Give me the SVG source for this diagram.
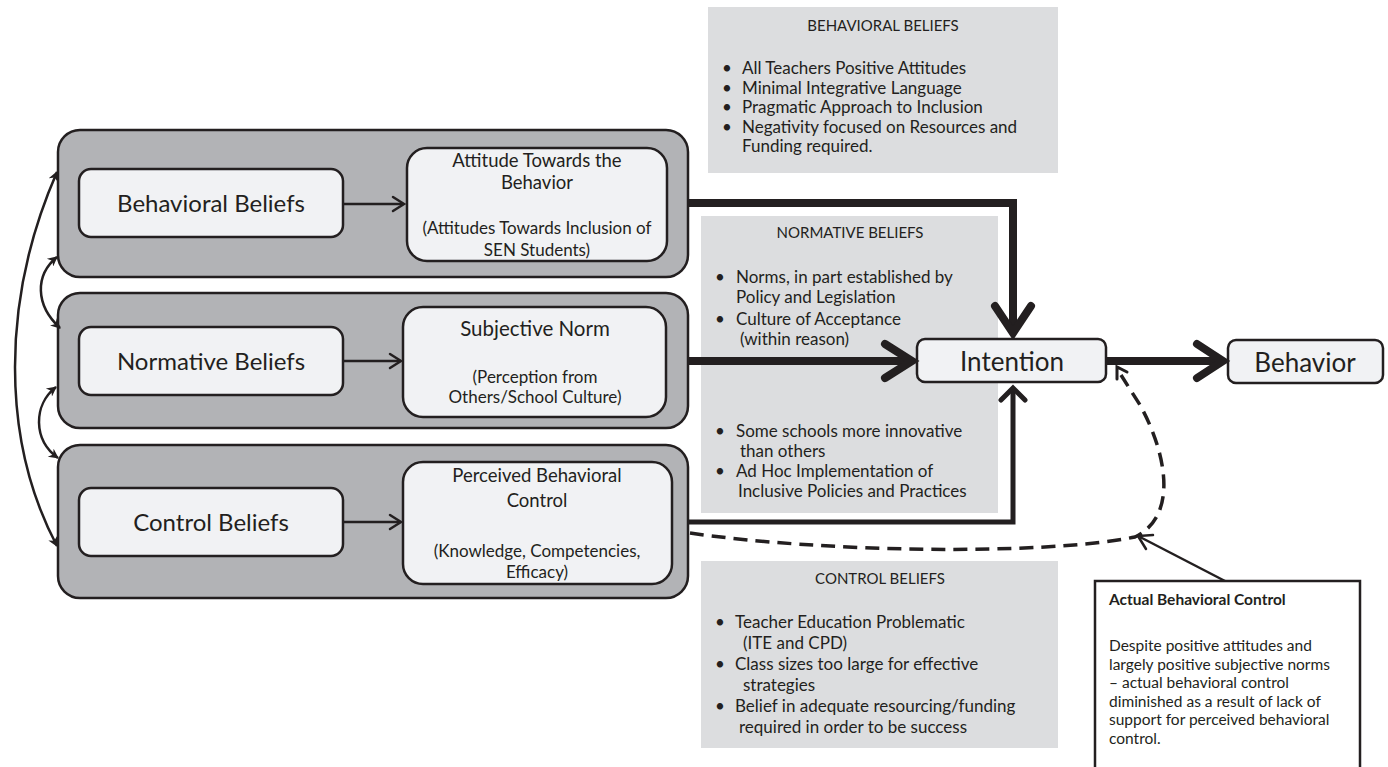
<svg xmlns="http://www.w3.org/2000/svg" width="1388" height="767" viewBox="0 0 1388 767">
<style>
text{font-family:Lato,"Liberation Sans",Arial,sans-serif;fill:#231f20}
.outer{fill:#b2b3b6;stroke:#231f20;stroke-width:2.5}
.inner{fill:#f1f2f4;stroke:#231f20;stroke-width:2.5}
.panel{fill:#dcdddf}
.lt{font-size:24px;text-anchor:middle}
.rt{font-size:18.5px;text-anchor:middle}
.rp{font-size:17px;text-anchor:middle}
.hd{font-size:15px;text-anchor:middle}
.bl{font-size:17px}
.big{font-size:26px;text-anchor:middle}
.ab{font-size:15.5px}
.thin{fill:none;stroke:#231f20;stroke-width:2.5}
.thick{fill:none;stroke:#231f20;stroke-width:8}
.mid{fill:none;stroke:#231f20;stroke-width:5}
.head{fill:none;stroke:#231f20;stroke-linecap:round;stroke-linejoin:miter}
.dash{fill:none;stroke:#231f20;stroke-width:3.5;stroke-dasharray:14 8}
</style>
<defs>
<marker id="tri" viewBox="0 0 10 10" refX="9" refY="5" markerWidth="12" markerHeight="10" orient="auto-start-reverse" markerUnits="userSpaceOnUse">
<path d="M0,0 L10,5 L0,10 L3,5 z" fill="#231f20"/>
</marker>
</defs>

<g id="panel-behavioral">
<rect class="panel" x="708" y="7" width="350" height="166"/>
<text class="hd" x="883" y="31">BEHAVIORAL BELIEFS</text>
<text class="bl" x="722" y="74">•</text><text class="bl" x="742" y="74">All Teachers Positive Attitudes</text>
<text class="bl" x="722" y="94">•</text><text class="bl" x="742" y="94">Minimal Integrative Language</text>
<text class="bl" x="722" y="113">•</text><text class="bl" x="742" y="113">Pragmatic Approach to Inclusion</text>
<text class="bl" x="722" y="133">•</text><text class="bl" x="742" y="133">Negativity focused on Resources and</text>
<text class="bl" x="742" y="152">Funding required.</text>
</g>

<g id="panel-normative">
<rect class="panel" x="701" y="216" width="297" height="297"/>
<text class="hd" x="850" y="238">NORMATIVE BELIEFS</text>
<text class="bl" x="715" y="283">•</text><text class="bl" x="736" y="283">Norms, in part established by</text>
<text class="bl" x="736" y="303">Policy and Legislation</text>
<text class="bl" x="715" y="325">•</text><text class="bl" x="736" y="325">Culture of Acceptance</text>
<text class="bl" x="740" y="345">(within reason)</text>
<text class="bl" x="715" y="437">•</text><text class="bl" x="736" y="437">Some schools more innovative</text>
<text class="bl" x="740" y="457">than others</text>
<text class="bl" x="715" y="477">•</text><text class="bl" x="736" y="477">Ad Hoc Implementation of</text>
<text class="bl" x="738" y="497">Inclusive Policies and Practices</text>
</g>

<g id="panel-control">
<rect class="panel" x="701" y="561" width="357" height="187"/>
<text class="hd" x="880" y="584">CONTROL BELIEFS</text>
<text class="bl" x="715" y="628">•</text><text class="bl" x="735" y="628">Teacher Education Problematic</text>
<text class="bl" x="743" y="649">(ITE and CPD)</text>
<text class="bl" x="715" y="670">•</text><text class="bl" x="735" y="670">Class sizes too large for effective</text>
<text class="bl" x="743" y="691">strategies</text>
<text class="bl" x="715" y="712">•</text><text class="bl" x="735" y="712">Belief in adequate resourcing/funding</text>
<text class="bl" x="739" y="733">required in order to be success</text>
</g>

<g id="group-behavioral">
<rect class="outer" x="58" y="130" width="630" height="147" rx="22"/>
</g>
<g id="group-normative">
<rect class="outer" x="58" y="293" width="630" height="135" rx="22"/>
</g>
<g id="group-control">
<rect class="outer" x="58" y="445" width="630" height="153" rx="22"/>
</g>

<g id="behavioral-beliefs">
<rect class="inner" x="79" y="169" width="264" height="68" rx="12"/>
<text class="lt" x="211" y="212">Behavioral Beliefs</text>
</g>
<g id="normative-beliefs">
<rect class="inner" x="79" y="327" width="264" height="68" rx="12"/>
<text class="lt" x="211" y="370">Normative Beliefs</text>
</g>
<g id="control-beliefs">
<rect class="inner" x="79" y="488" width="264" height="68" rx="12"/>
<text class="lt" x="211" y="531">Control Beliefs</text>
</g>

<g id="attitude">
<rect class="inner" x="407" y="148" width="260" height="113" rx="20"/>
<text class="rt" x="537" y="167">Attitude Towards the</text>
<text class="rt" x="537" y="189">Behavior</text>
<text class="rp" x="537" y="234">(Attitudes Towards Inclusion of</text>
<text class="rp" x="537" y="256">SEN Students)</text>
</g>
<g id="subjective-norm">
<rect class="inner" x="403" y="307" width="263" height="110" rx="20"/>
<text class="rt" x="535" y="336" style="font-size:20.5px">Subjective Norm</text>
<text class="rp" x="535" y="383">(Perception from</text>
<text class="rp" x="535" y="403">Others/School Culture)</text>
</g>
<g id="perceived-control">
<rect class="inner" x="403" y="462" width="269" height="122" rx="20"/>
<text class="rt" x="537" y="482">Perceived Behavioral</text>
<text class="rt" x="537" y="507">Control</text>
<text class="rp" x="537" y="557">(Knowledge, Competencies,</text>
<text class="rp" x="537" y="578">Efficacy)</text>
</g>

<g id="intention">
<rect class="inner" x="917" y="339" width="189" height="43" rx="8"/>
<text class="big" x="1012" y="371">Intention</text>
</g>
<g id="behavior">
<rect class="inner" x="1228" y="340" width="155" height="43" rx="8"/>
<text class="big" x="1305" y="372">Behavior</text>
</g>

<g id="actual-control">
<rect x="1095" y="581" width="265" height="200" fill="#ffffff" stroke="#231f20" stroke-width="2.5"/>
<text class="ab" x="1109" y="605" style="font-weight:bold">Actual Behavioral Control</text>
<text class="ab" x="1109" y="651">Despite positive attitudes and</text>
<text class="ab" x="1109" y="669.5">largely positive subjective norms</text>
<text class="ab" x="1109" y="688">– actual behavioral control</text>
<text class="ab" x="1109" y="706.5">diminished as a result of lack of</text>
<text class="ab" x="1109" y="725">support for perceived behavioral</text>
<text class="ab" x="1109" y="743.5">control.</text>
</g>

<g id="connectors">
<path class="thin" d="M343,204 H403"/>
<path class="head" stroke-width="2.5" d="M393,197 L404,204 L393,211"/>
<path class="thin" d="M343,361 H400"/>
<path class="head" stroke-width="2.5" d="M390,354 L401,361 L390,368"/>
<path class="thin" d="M343,522 H400"/>
<path class="head" stroke-width="2.5" d="M390,515 L401,522 L390,529"/>

<path class="thin" d="M57,172 C1,300 1,440 57,546" marker-start="url(#tri)" marker-end="url(#tri)"/>
<path class="thin" d="M57,257 C35,275 35,305 60,328" marker-start="url(#tri)" marker-end="url(#tri)"/>
<path class="thin" d="M56,387 C33,405 33,440 58,458" marker-start="url(#tri)" marker-end="url(#tri)"/>

<path class="thick" d="M688,203 H1013 V330"/>
<path class="head" stroke-width="8" d="M995,306 L1013,333 L1031,306"/>
<path class="thick" d="M688,361 H910"/>
<path class="head" stroke-width="8" d="M885,344 L912,361 L885,378"/>
<path class="mid" d="M688,522 H1013 V391"/>
<path class="head" stroke-width="5" d="M1001,400 L1013,388 L1025,400"/>
<path class="thick" d="M1106,361 H1220"/>
<path class="head" stroke-width="8" d="M1197,344 L1223,361 L1197,378"/>

<path class="dash" d="M690,533 C820,552 1040,556 1135,537 C1180,515 1165,450 1140,405 L1121,375"/>
<path class="head" stroke-width="3" d="M1127,372 L1117,367 L1117,379"/>

<path class="thin" d="M1225,581 L1140,537"/>
<path class="head" stroke-width="2.5" d="M1153,535 L1138,536 L1146,549"/>
</g>
</svg>
